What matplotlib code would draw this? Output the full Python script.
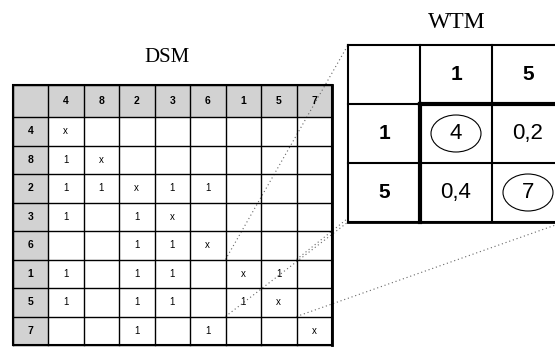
import matplotlib
matplotlib.use("Agg")
import matplotlib.pyplot as plt
from matplotlib.patches import Rectangle, Ellipse

# ---- data ----
dsm_labels = ['4', '8', '2', '3', '6', '1', '5', '7']
dsm_cells = [
    ['x', '', '', '', '', '', '', ''],
    ['1', 'x', '', '', '', '', '', ''],
    ['1', '1', 'x', '1', '1', '', '', ''],
    ['1', '', '1', 'x', '', '', '', ''],
    ['', '', '1', '1', 'x', '', '', ''],
    ['1', '', '1', '1', '', 'x', '1', ''],
    ['1', '', '1', '1', '', '1', 'x', ''],
    ['', '', '1', '', '1', '', '', 'x'],
]
wtm_labels = ['1', '5']
wtm_cells = [['4', '0,2'], ['0,4', '7']]
wtm_circled = [[True, False], [False, True]]
zoom_block = ['1', '5']   # DSM block magnified in WTM

fig = plt.figure(figsize=(5.55, 3.5), dpi=100)
ax = fig.add_axes([0, 0, 1, 1])
ax.set_xlim(0, 555)
ax.set_ylim(350, 0)
ax.axis('off')

SANS = ['Liberation Sans', 'DejaVu Sans']
SERIF = ['Liberation Serif', 'DejaVu Serif']

# ---- DSM geometry ----
n = len(dsm_labels)
dx0, dy0 = 13, 85
hw, hh = 35, 32
cw, ch = 35.5, 28.5

def dcol(i):
    return dx0 + hw + i * cw

def drow(j):
    return dy0 + hh + j * ch

right = dcol(n)
bottom = drow(n)

# header shading
ax.add_patch(Rectangle((dx0, dy0), right - dx0, hh, facecolor='#d2d2d2', edgecolor='none', zorder=1))
ax.add_patch(Rectangle((dx0, dy0), hw, bottom - dy0, facecolor='#d2d2d2', edgecolor='none', zorder=1))

# grid lines
xs = [dx0] + [dcol(i) for i in range(n + 1)]
ys = [dy0] + [drow(j) for j in range(n + 1)]
for x in xs:
    ax.plot([x, x], [dy0, bottom], color='black', lw=1.0, zorder=3)
for y in ys:
    ax.plot([dx0, right], [y, y], color='black', lw=1.0, zorder=3)
ax.add_patch(Rectangle((dx0, dy0), right - dx0, bottom - dy0, fill=False, edgecolor='black', lw=1.5, zorder=4))
ax.plot([right, right], [dy0, bottom], color='black', lw=2.0, zorder=4)

for i, lab in enumerate(dsm_labels):
    ax.text(dcol(i) + cw / 2, dy0 + hh / 2, lab, ha='center', va='center',
            fontsize=7.5, fontweight='bold', family=SANS, zorder=5)
    ax.text(dx0 + hw / 2, drow(i) + ch / 2, lab, ha='center', va='center',
            fontsize=7.5, fontweight='bold', family=SANS, zorder=5)
for j, row in enumerate(dsm_cells):
    for i, v in enumerate(row):
        if v:
            ax.text(dcol(i) + cw / 2, drow(j) + ch / 2, v, ha='center', va='center',
                    fontsize=7, family=SANS, zorder=5)

ax.text(167, 58, 'DSM', ha='center', va='center', fontsize=15, family=SERIF)

# ---- WTM geometry ----
wx0, wy0 = 348, 45
wcw, wch = 72, 59
m = len(wtm_labels)

def wcol(i):
    return wx0 + (i + 1) * wcw

def wrow(j):
    return wy0 + (j + 1) * wch

wright = wx0 + (m + 1) * wcw
wbottom = wy0 + (m + 1) * wch

ax.add_patch(Rectangle((wx0, wy0), wright - wx0, wbottom - wy0, facecolor='white', edgecolor='none', zorder=2.5))
for k in range(m + 2):
    ax.plot([wx0 + k * wcw] * 2, [wy0, wbottom], color='black', lw=1.5, zorder=3)
    ax.plot([wx0, wright], [wy0 + k * wch] * 2, color='black', lw=1.5, zorder=3)
ax.plot([wcol(0), wcol(0)], [wrow(0), wbottom], color='black', lw=3, zorder=4)
ax.plot([wcol(0), wright], [wrow(0), wrow(0)], color='black', lw=3, zorder=4)
ax.plot([wx0, wright], [wbottom, wbottom], color='black', lw=2, zorder=4)

for i, lab in enumerate(wtm_labels):
    ax.text(wcol(i) + wcw / 2, wy0 + wch / 2, lab, ha='center', va='center',
            fontsize=15, fontweight='bold', family=SANS, zorder=5)
    ax.text(wx0 + wcw / 2, wrow(i) + wch / 2, lab, ha='center', va='center',
            fontsize=15, fontweight='bold', family=SANS, zorder=5)
for j, row in enumerate(wtm_cells):
    for i, v in enumerate(row):
        cx, cy = wcol(i) + wcw / 2, wrow(j) + wch / 2
        ax.text(cx, cy, v, ha='center', va='center', fontsize=16, family=SANS, zorder=5)
        if wtm_circled[j][i]:
            ax.add_patch(Ellipse((cx, cy), 50, 37, fill=False, edgecolor='black', lw=0.8, zorder=5))

ax.text(457, 23, 'WTM', ha='center', va='center', fontsize=17, family=SERIF)

# ---- projection lines from DSM block to WTM ----
bi = [dsm_labels.index(l) for l in zoom_block]
bx0, bx1 = dcol(min(bi)), dcol(max(bi) + 1)
by0, by1 = drow(min(bi)), drow(max(bi) + 1)
pairs = [((bx0, by0), (wx0, wy0)), ((bx1, by0), (wright, wy0)),
         ((bx0, by1), (wx0, wbottom)), ((bx1, by1), (wright, wbottom))]
for (x1, y1), (x2, y2) in pairs:
    ax.plot([x1, x2], [y1, y2], color='#666666', lw=0.8, ls=(0, (1, 2.5)), zorder=2)

fig.savefig('out.png', dpi=100)
